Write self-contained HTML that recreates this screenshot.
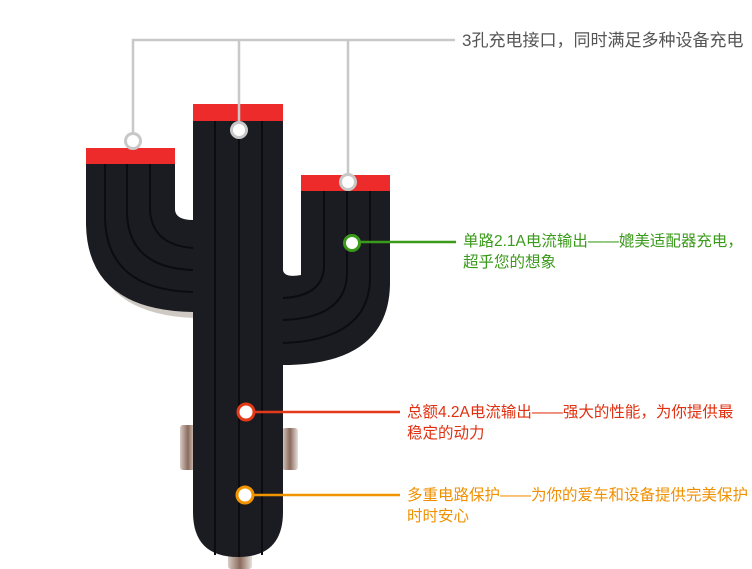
<!DOCTYPE html>
<html><head><meta charset="utf-8"><style>
body{margin:0;background:#fff;width:752px;height:569px;overflow:hidden;position:relative;font-family:"Liberation Sans","Noto Sans CJK SC",sans-serif}
.t{position:absolute;font-size:15.5px;white-space:nowrap;line-height:21px}
</style></head><body>
<svg width="752" height="569" style="position:absolute;left:0;top:0">
<defs><linearGradient id="m" x1="0" x2="1"><stop offset="0" stop-color="#d8ccc4"/><stop offset=".5" stop-color="#8a6a5c"/><stop offset="1" stop-color="#e8e0da"/></linearGradient></defs>
<rect x="180" y="425" width="16" height="45" rx="3" fill="url(#m)"/>
<rect x="282" y="428" width="16" height="42" rx="3" fill="url(#m)"/>
<rect x="228" y="548" width="24" height="21" rx="3" fill="url(#m)"/>
<path d="M92 240 Q100 315 195 318 L195 300 Z" fill="#cfc9c3"/>
<path fill="#1b1c22" d="M86 163 L175 163 L175 210 Q176 220 193 220 L193 120 L283 120 L283 270 Q284 278 301 275 L301 190 L390 190 L390 285 Q388 362 290 365 L283 365 L283 512 Q283 557 238 557 Q193 557 193 512 L193 312 Q88 310 86 225 Z"/>
<g stroke="#0c0c10" stroke-width="2" fill="none">
<path d="M215 120 V555 M239 120 V557 M262 120 V555"/>
<path d="M105 163 V220 Q108 290 193 292 M127 163 V215 Q130 268 193 270 M150 163 V210 Q152 245 193 248"/>
<path d="M370 190 V280 Q368 340 283 343 M347 190 V275 Q345 318 283 320 M324 190 V268 Q322 296 283 298"/>
</g>
<rect x="86" y="148" width="89" height="16" fill="#ee2b2b"/>
<rect x="193" y="104" width="90" height="17" fill="#ee2b2b"/>
<rect x="301" y="175" width="89" height="16" fill="#ee2b2b"/>
<g stroke="#c8c8c8" stroke-width="2.5" fill="none">
<path d="M133 133 V40 H455 M239 123 V40 M348 175 V40"/>
</g>
<g fill="#fff" stroke-width="3">
<circle cx="133" cy="141" r="7.5" stroke="#c8c8c8"/>
<circle cx="239" cy="130" r="7.5" stroke="#c8c8c8"/>
<circle cx="348" cy="182" r="7.5" stroke="#c8c8c8"/>
</g>
<line x1="358" y1="242" x2="456" y2="242" stroke="#3a9a1a" stroke-width="2.5"/>
<circle cx="352" cy="243" r="7.5" fill="#fff" stroke="#3a9a1a" stroke-width="3"/>
<line x1="253" y1="412" x2="400" y2="412" stroke="#e5391a" stroke-width="2.5"/>
<circle cx="246" cy="412" r="8" fill="#fff" stroke="#e5391a" stroke-width="3"/>
<line x1="252" y1="495" x2="400" y2="495" stroke="#f29400" stroke-width="2.5"/>
<circle cx="245" cy="495" r="8" fill="#fff" stroke="#f29400" stroke-width="3"/>
</svg>
<div class="t" style="left:462px;top:30px;color:#555;font-size:17px">3孔充电接口，同时满足多种设备充电</div>
<div class="t" style="left:463px;top:231px;color:#3a9a1a">单路2.1A电流输出——媲美适配器充电，<br>超乎您的想象</div>
<div class="t" style="left:407px;top:402px;color:#e03010">总额4.2A电流输出——强大的性能，为你提供最<br>稳定的动力</div>
<div class="t" style="left:407px;top:485px;color:#f09000">多重电路保护——为你的爱车和设备提供完美保护<br>时时安心</div>
</body></html>
